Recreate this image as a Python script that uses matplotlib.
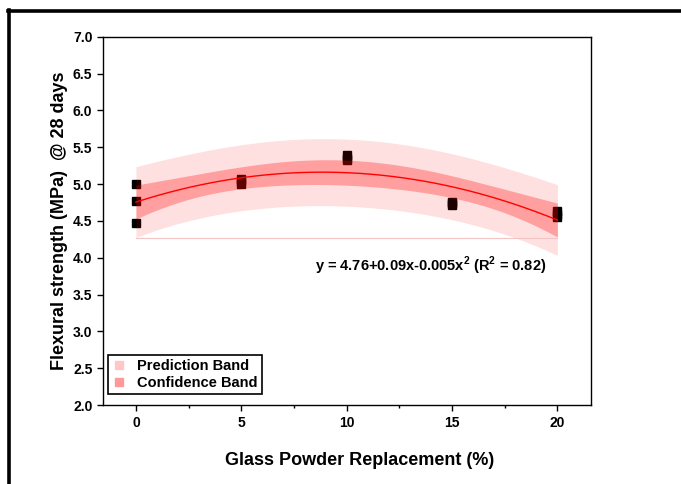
import numpy as np
import matplotlib
matplotlib.use("Agg")
import matplotlib.pyplot as plt
from matplotlib.lines import Line2D

plt.rcParams['font.family'] = ['Liberation Sans', 'DejaVu Sans']
plt.rcParams['font.weight'] = 'bold'
plt.rcParams['mathtext.fontset'] = 'custom'
plt.rcParams['mathtext.rm'] = 'Liberation Sans:bold'
plt.rcParams['mathtext.bf'] = 'Liberation Sans:bold'

# data
replacement = [0, 0, 0, 5, 5, 5, 10, 10, 10, 15, 15, 15, 20, 20, 20]
strength = [5.00, 4.77, 4.47, 5.07, 5.00, 5.04, 5.39, 5.33, 5.36, 4.76, 4.72, 4.74, 4.63, 4.55, 4.59]
equation = r"y = 4.76+0.09x-0.005x$^{2}$ (R$^{2}$ = 0.82)"
x_ticks = [0, 5, 10, 15, 20]
y_ticks = [2.0, 2.5, 3.0, 3.5, 4.0, 4.5, 5.0, 5.5, 6.0, 6.5, 7.0]
t_95 = 2.179  # two-sided 95 % t value for 12 residual degrees of freedom

x = np.array(replacement, dtype=float)
y = np.array(strength, dtype=float)
X = np.vstack([np.ones_like(x), x, x**2]).T
beta, *_ = np.linalg.lstsq(X, y, rcond=None)
resid = y - X @ beta
dof = len(x) - 3
s2 = resid @ resid / dof
XtX_inv = np.linalg.inv(X.T @ X)
xs = np.linspace(0, 20, 200)
Xs = np.vstack([np.ones_like(xs), xs, xs**2]).T
ys = Xs @ beta
lev = np.einsum('ij,jk,ik->i', Xs, XtX_inv, Xs)
conf = t_95 * np.sqrt(s2 * lev)
pred = t_95 * np.sqrt(s2 * (1 + lev))

fig = plt.figure(figsize=(6.81, 4.84), dpi=100)
ax = fig.add_axes([0.151, 0.163, 0.717, 0.761])

ax.plot(x, y, 's', color='black', markersize=6, zorder=2)
ax.fill_between(xs, ys - pred, ys + pred, color='red', alpha=0.12, lw=0, zorder=3)
ax.fill_between(xs, ys - conf, ys + conf, color='red', alpha=0.29, lw=0, zorder=4)
ax.plot([xs[0], xs[-1]], [ys[0] - pred[0]] * 2, color='#f2c4c4', lw=0.8, zorder=3)
ax.plot(xs, ys, color='red', lw=1.0, zorder=5)

ax.set_xlim(-1.57, 21.6)
ax.set_ylim(2.0, 7.0)
ax.set_xticks(x_ticks)
ax.set_xticks([2.5, 7.5, 12.5, 17.5], minor=True)
ax.set_yticks(y_ticks)
ax.set_yticklabels([f"{v:.1f}" for v in y_ticks])
ax.tick_params(axis='both', which='major', direction='out', length=4, width=1, labelsize=10)
ax.tick_params(axis='x', which='minor', direction='out', length=2.5, width=1)
for sp in ax.spines.values():
    sp.set_linewidth(1.0)

ax.set_xlabel('Glass Powder Replacement (%)', fontsize=13, fontweight='bold')
ax.set_ylabel('Flexural strength (MPa)  @ 28 days', fontsize=13, fontweight='bold')
ax.xaxis.set_label_coords(0.526, -0.128)
ax.yaxis.set_label_coords(-0.072, 0.5)

ax.text(13.97, 3.89, equation, fontsize=10.5, fontweight='bold', ha='center', va='center')

handles = [Line2D([], [], marker='s', ls='none', markersize=6, color=(1, 0.78, 0.78)),
           Line2D([], [], marker='s', ls='none', markersize=6, color=(1, 0.6, 0.6))]
leg = ax.legend(handles, ['Prediction Band', 'Confidence Band'], loc='lower left',
                bbox_to_anchor=(0.007, 0.025), fancybox=False, framealpha=1,
                edgecolor='black', handlelength=1.0, handletextpad=0.7,
                borderpad=0.3, labelspacing=0.2, borderaxespad=0.1,
                prop={'weight': 'bold', 'size': 10.5})
leg.get_frame().set_linewidth(1.2)

# outer frame lines
fig.add_artist(Line2D([7.5 / 681, 1.0], [1 - 11 / 484, 1 - 11 / 484], color='black', lw=2.6, transform=fig.transFigure))
fig.add_artist(Line2D([9 / 681, 9 / 681], [0, 1 - 10 / 484], color='black', lw=2.6, transform=fig.transFigure))

fig.savefig('out.png', dpi=100)
